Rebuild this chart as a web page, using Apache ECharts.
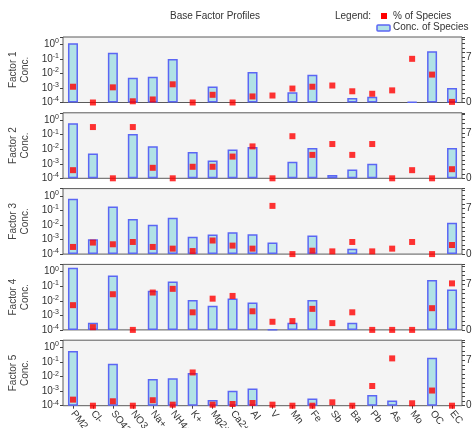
<!DOCTYPE html>
<html>
<head>
<meta charset="utf-8">
<script src="https://cdn.jsdelivr.net/npm/echarts@6/dist/echarts.min.js"></script>
<style>
  html, body { margin: 0; padding: 0; background: #fff; overflow: hidden; }
  #chart { width: 490px; height: 428px; }
</style>
</head>
<body>
<div id="chart"></div>
<script>
// Species along the x axis
const categories = ['PM2.5', 'Cl-', 'SO42-', 'NO3-', 'Na+', 'NH4+', 'K+', 'Mg2+', 'Ca2+', 'Al',
  'V', 'Mn', 'Fe', 'Sb', 'Ba', 'Pb', 'As', 'Mo', 'OC', 'EC'];

// Concentration of species per factor (log scale, null = not present)
const f1Conc = [1.2, null, 0.26, 0.005, 0.0059, 0.1, null, 0.00125, null, 0.0123, null, 0.0005, 0.0081, null, 0.0002, 0.00025, null, 0.00011, 0.34, 0.001];
const f2Conc = [0.62, 0.005, null, 0.11, 0.016, null, 0.0065, 0.0017, 0.0095, 0.0145, null, 0.0014, 0.0123, 0.00017, 0.0004, 0.001, null, null, null, 0.0123];
const f3Conc = [0.65, 0.00105, 0.19, 0.026, 0.0105, 0.032, 0.00155, 0.0022, 0.0032, 0.0023, 0.00062, null, 0.0019, null, 0.00023, null, null, null, null, 0.0145];
const f4Conc = [1.9, 0.00031, 0.55, null, 0.05, 0.21, 0.0112, 0.0045, 0.0145, 0.0076, 0.000105, 0.00031, 0.0112, null, 0.00031, null, null, null, 0.275, 0.059];
const f5Conc = [0.59, null, 0.076, null, 0.0069, 0.0076, 0.018, 0.00025, 0.00105, 0.00155, null, null, 0.00031, null, null, 0.00055, 0.00023, null, 0.2, null];

// Percent of species per factor
const f1Pct = [26, 0, 25, 2, 5, 30, 0, 12.7, 0, 10, 11.5, 23, 26, 28, 18.5, 14.4, 20, 72, 46, 1];
const f2Pct = [13.4, 84.5, 0, 84.5, 17.3, 0, 19, 19, 35.8, 52.6, 0, 69.4, 38.6, 56.5, 38.6, 56.5, 0, 13.4, 0, 15];
const f3Pct = [11.8, 19, 16.2, 20, 11.8, 9, 5, 22.4, 14, 9, 79.5, 0, 5.6, 4.5, 20, 4.5, 9, 20, 0, 15];
const f4Pct = [40.8, 4.5, 58.8, 0, 61.6, 67.7, 29, 51.5, 56, 30.7, 13.4, 14.5, 34.7, 11.2, 29, 0, 0, 0, 35.8, 76.7];
const f5Pct = [10, 0, 7.3, 0, 9, 1.7, 54.8, 1.7, 2.8, 4.5, 1.7, 0, 0, 5.6, 0, 32.5, 78, 4, 25, 0];

const factorNames = ['Factor 1', 'Factor 2', 'Factor 3', 'Factor 4', 'Factor 5'];
const concSets = [f1Conc, f2Conc, f3Conc, f4Conc, f5Conc];
const pctSets = [f1Pct, f2Pct, f3Pct, f4Pct, f5Pct];

const FONT = '"Liberation Sans", Arial, sans-serif';
const TEXT = '#333';
const PANEL_TOP = 37, PANEL_STEP = 75.8, PANEL_H = 65.5;
const PLOT_LEFT = 63, PLOT_W = 399;

function powLabel(v) {
  const l = Math.log10(v);
  const e = Math.round(l);
  if (Math.abs(l - e) > 1e-6) return '';
  return '10{s|' + e + '}';
}

const grid = [], xAxis = [], yAxis = [], series = [];
factorNames.forEach((name, i) => {
  const last = i === factorNames.length - 1;
  grid.push({
    left: PLOT_LEFT, width: PLOT_W,
    top: PANEL_TOP + PANEL_STEP * i, height: PANEL_H,
    outerBoundsMode: 'none', containLabel: false,
    show: true, backgroundColor: '#f4f4f4', borderColor: '#5a5a5a', borderWidth: 1
  });
  xAxis.push({
    type: 'category', gridIndex: i, data: categories,
    axisLine: { show: false },
    axisTick: { show: last, alignWithLabel: true, length: 3, lineStyle: { color: '#444' } },
    axisLabel: {
      show: last, rotate: -52, interval: 0, margin: 6,
      fontFamily: FONT, fontSize: 10, color: TEXT
    },
    splitLine: { show: false }
  });
  yAxis.push({
    type: 'log', gridIndex: i, min: 1e-4, max: 3.2, startValue: 1e-4,
    name: name + '\nConc.', nameLocation: 'middle', nameRotate: 90, nameGap: 25,
    nameTextStyle: { fontFamily: FONT, fontSize: 10, color: '#444', lineHeight: 12 },
    axisLine: { show: false },
    axisTick: { show: true, length: 3, lineStyle: { color: '#444' } },
    splitLine: { show: false },
    axisLabel: {
      formatter: powLabel, margin: 4, fontFamily: FONT, fontSize: 10, color: TEXT,
      rich: { s: { fontFamily: FONT, fontSize: 7, color: TEXT, verticalAlign: 'top', padding: [0, 0, 6, 0] } }
    }
  });
  yAxis.push({
    type: 'value', gridIndex: i, min: 0, max: 108, interval: 7.5, position: 'right',
    axisLine: { show: false },
    axisTick: { show: true, length: 3, lineStyle: { color: '#444' } },
    splitLine: { show: false },
    axisLabel: {
      margin: 4, fontFamily: FONT, fontSize: 10, color: TEXT,
      formatter: v => (v === 0 || v === 75) ? String(v) : ''
    }
  });
  series.push({
    name: 'Conc. of Species', type: 'bar', xAxisIndex: i, yAxisIndex: 2 * i,
    data: concSets[i], barWidth: 10,
    itemStyle: { color: '#b1e2e6', borderColor: '#5b66f4', borderWidth: 1.5 },
    silent: true, animation: false
  });
  series.push({
    name: '% of Species', type: 'scatter', xAxisIndex: i, yAxisIndex: 2 * i + 1,
    data: pctSets[i], symbol: 'rect', symbolSize: 6, clip: false, z: 5,
    itemStyle: { color: '#ff0000' }, silent: true, animation: false
  });
});

const chart = echarts.init(document.getElementById('chart'), null, { renderer: 'canvas' });
chart.setOption({
  backgroundColor: '#ffffff',
  animation: false,
  grid, xAxis, yAxis, series,
  graphic: [
    { type: 'text', left: 170, top: 11,
      style: { text: 'Base Factor Profiles', font: '10px ' + FONT, fill: TEXT } },
    { type: 'text', left: 335, top: 11,
      style: { text: 'Legend:', font: '10px ' + FONT, fill: TEXT } },
    { type: 'rect', shape: { x: 381, y: 13, width: 6, height: 6 }, style: { fill: '#ff0000' } },
    { type: 'text', left: 393, top: 11,
      style: { text: '% of Species', font: '10px ' + FONT, fill: TEXT } },
    { type: 'rect', shape: { x: 377, y: 25, width: 13, height: 6, r: 1 },
      style: { fill: '#b1e2e6', stroke: '#5b66f4', lineWidth: 1.5 } },
    { type: 'text', left: 393, top: 22,
      style: { text: 'Conc. of Species', font: '10px ' + FONT, fill: TEXT } }
  ]
});
</script>
</body>
</html>
